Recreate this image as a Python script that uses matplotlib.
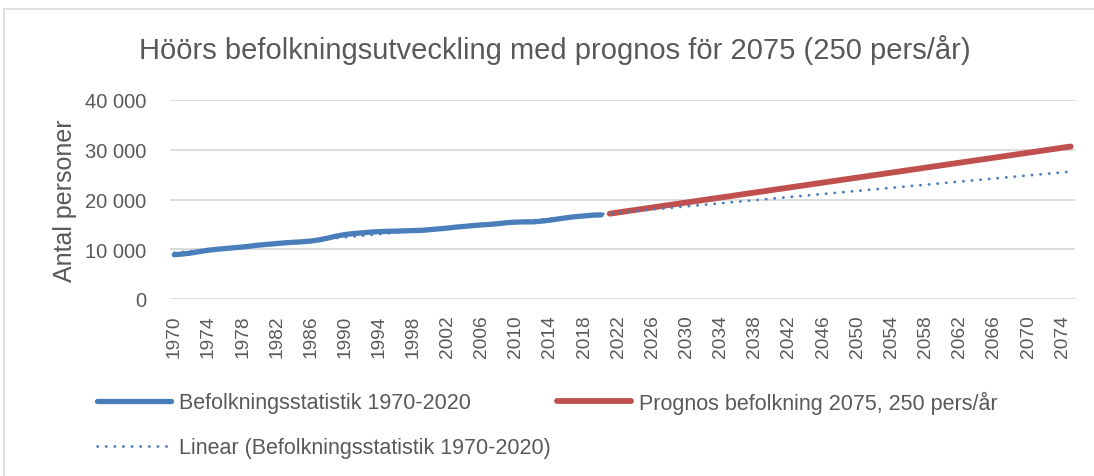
import numpy as np
import matplotlib
matplotlib.use("Agg")
import matplotlib.pyplot as plt
from matplotlib.patches import Rectangle

plt.rcParams['font.family'] = ['Liberation Sans', 'DejaVu Sans']

# Population statistics 1970-2020
years_hist = list(range(1970, 2021))
pop_hist = [8900, 9050, 9250, 9550, 9800, 10000, 10150, 10300, 10450, 10650,
            10850, 11000, 11150, 11300, 11400, 11500, 11650, 11900, 12250, 12650,
            12950, 13150, 13300, 13450, 13550, 13600, 13650, 13700, 13750, 13800,
            13950, 14100, 14250, 14450, 14600, 14750, 14900, 15000, 15150, 15350,
            15450, 15500, 15500, 15650, 15850, 16100, 16350, 16550, 16700, 16850,
            16900]

# Forecast 2021-2075, 250 persons per year
years_prog = list(range(2021, 2076))
pop_prog = [17150, 17400, 17650, 17900, 18150, 18400, 18650, 18900, 19150, 19400,
            19650, 19900, 20150, 20400, 20650, 20900, 21150, 21400, 21650, 21900,
            22150, 22400, 22650, 22900, 23150, 23400, 23650, 23900, 24150, 24400,
            24650, 24900, 25150, 25400, 25650, 25900, 26150, 26400, 26650, 26900,
            27150, 27400, 27650, 27900, 28150, 28400, 28650, 28900, 29150, 29400,
            29650, 29900, 30150, 30400, 30650]

all_years = list(range(1970, 2076))
tick_years = all_years[::4]
y_ticks = [0, 10000, 20000, 30000, 40000]
y_labels = ['0', '10 000', '20 000', '30 000', '40 000']

blue = '#4A7EBB'
red = '#C0504D'
grid_col = '#D9D9D9'
text_col = '#595959'

# category positions
x_hist = [all_years.index(y) for y in years_hist]
x_prog = [all_years.index(y) for y in years_prog]

# linear trendline of the statistics, extended to the end of the axis
k, m = np.polyfit(x_hist, pop_hist, 1)
x_trend = np.arange(len(all_years))
y_trend = k * x_trend + m

fig = plt.figure(figsize=(10.94, 4.77), dpi=100)
fig.patches.append(Rectangle((4 / 1094, -0.1), 1.2, 1.1 - 10 / 477,
                             transform=fig.transFigure, fill=False,
                             edgecolor=grid_col, lw=1.2))
ax = fig.add_axes([170 / 1094, 1 - 300 / 477, 905 / 1094, 199 / 477])

l1, = ax.plot(x_hist, pop_hist, color=blue, lw=3.8, solid_capstyle='round',
              label='Befolkningsstatistik 1970-2020')
l2, = ax.plot(x_prog, pop_prog, color=red, lw=4.2, solid_capstyle='round',
              label='Prognos befolkning 2075, 250 pers/år')
l3, = ax.plot(x_trend, y_trend, color=blue, lw=2.0, linestyle=(0, (0.1, 3)),
              dash_capstyle='round', label='Linear (Befolkningsstatistik 1970-2020)')

ax.set_xlim(-0.5, len(all_years) - 0.5)
ax.set_ylim(0, 40000)
ax.set_yticks(y_ticks)
ax.set_yticklabels(y_labels)
ax.set_xticks([all_years.index(y) for y in tick_years])
ax.set_xticklabels([str(y) for y in tick_years], rotation=90)
ax.tick_params(axis='y', length=0, pad=17, labelsize=14.5, labelcolor=text_col)
ax.tick_params(axis='x', length=0, pad=11, labelsize=13.8, labelcolor=text_col)
ax.grid(axis='y', color=grid_col, lw=1.3)
ax.set_axisbelow(True)
for s in ax.spines.values():
    s.set_visible(False)

ax.set_ylabel('Antal personer', fontsize=18, color=text_col, labelpad=6)
fig.text(555 / 1094, 1 - 50 / 477,
         'Höörs befolkningsutveckling med prognos för 2075 (250 pers/år)',
         ha='center', va='center', fontsize=21, color=text_col)

leg1 = fig.legend(handles=[l1, l3], loc='upper left',
                  bbox_to_anchor=(78 / 1094, 1 - 374 / 477), frameon=False,
                  fontsize=15.5, handlelength=3.4, handletextpad=0.37,
                  labelspacing=1.1, labelcolor=text_col)
leg2 = fig.legend(handles=[l2], loc='upper left',
                  bbox_to_anchor=(538 / 1094, 1 - 372.5 / 477), frameon=False,
                  fontsize=15.5, handlelength=3.4, handletextpad=0.37,
                  labelcolor=text_col)

plt.savefig('out.png', dpi=100)
